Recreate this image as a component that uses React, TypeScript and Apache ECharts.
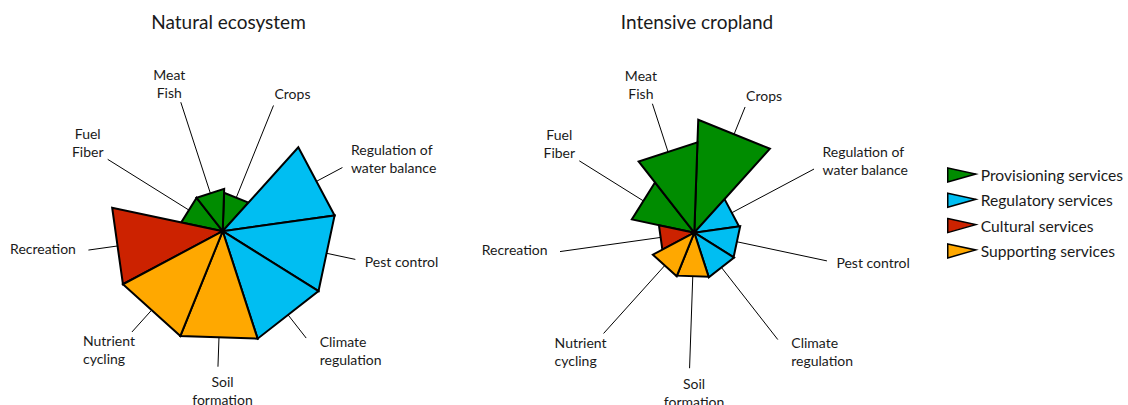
import React, { useEffect, useRef } from "react";
import * as echarts from "echarts";

// ---------- data ----------
const categories = [
  "Crops",
  "Regulation of\nwater balance",
  "Pest control",
  "Climate\nregulation",
  "Soil\nformation",
  "Nutrient\ncycling",
  "Recreation",
  "Fuel\nFiber",
  "Meat\nFish",
];
const categoryGroups = [
  "Provisioning services",
  "Regulatory services",
  "Regulatory services",
  "Regulatory services",
  "Supporting services",
  "Supporting services",
  "Cultural services",
  "Provisioning services",
  "Provisioning services",
];
const groupNames = [
  "Provisioning services",
  "Regulatory services",
  "Cultural services",
  "Supporting services",
];
const naturalValues = [0.34, 1, 1, 1, 1, 1, 1, 0.375, 0.375];
const intensiveValues = [1, 0.4, 0.41, 0.415, 0.41, 0.415, 0.32, 0.565, 0.8];
const chartTitles = ["Natural ecosystem", "Intensive cropland"];

// ---------- styling / layout ----------
const groupColors = ["#008C00", "#00BEF2", "#CC2200", "#FFA800"];
const FIRST_ANGLE = 2;
const WEDGE = 40;
const LEADER_END = 1.2;
const FONT = "Lato, 'Open Sans', sans-serif";
const TEXT_COLOR = "#1a1a1a";
const centers = [
  [222.7, 231.2],
  [694.3, 232.7],
];
const titleX = [228.5, 697];
const labelPlacement = [
  { align: "left", dx: 1, dy: -11.5 },
  { align: "left", dx: 8.5, dy: -9 },
  { align: "left", dx: 9.5, dy: 2 },
  { align: "left", dx: 13.5, dy: 12 },
  { align: "center", dx: 4.5, dy: 24 },
  { align: "left", dx: -49, dy: 18 },
  { align: "right", dx: -12.5, dy: -2 },
  { align: "center", dx: -20, dy: -17 },
  { align: "center", dx: -11.5, dy: -19 },
];

function makeRenderItem(color: string) {
  return (params: any, api: any) => {
    const start = api.value(0);
    const end = api.value(1);
    const v = api.value(2);
    const idx = api.value(3);
    const mid = (start + end) / 2;
    const half = ((end - start) / 2) * (Math.PI / 180);
    const pt = (r: number, a: number) => {
      const c = api.coord([r, a]);
      return [c[0], c[1]];
    };
    const c = pt(0, mid);
    const p1 = pt(v, start);
    const p2 = pt(v, end);
    const l1 = pt(v * Math.cos(half), mid);
    const l2 = pt(LEADER_END, mid);
    const pl = labelPlacement[idx];
    return {
      type: "group",
      children: [
        {
          type: "line",
          shape: { x1: l1[0], y1: l1[1], x2: l2[0], y2: l2[1] },
          style: { stroke: "#000", lineWidth: 1 },
        },
        {
          type: "polygon",
          shape: { points: [c, p1, p2] },
          style: { fill: color, stroke: "#000", lineWidth: 2, lineJoin: "miter" },
        },
        {
          type: "text",
          x: l2[0] + pl.dx,
          y: l2[1] + pl.dy,
          style: {
            text: categories[idx],
            font: `14px ${FONT}`,
            fill: TEXT_COLOR,
            lineHeight: 18,
            align: pl.align,
            verticalAlign: "middle",
            textAlign: pl.align,
            textVerticalAlign: "middle",
          },
        },
      ],
    };
  };
}

export default function App() {
  const ref = useRef<HTMLDivElement>(null);
  useEffect(() => {
    if (!ref.current) return;
    const chart = echarts.init(ref.current, undefined, { renderer: "svg" });
    const valueSets = [naturalValues, intensiveValues];
    const series: any[] = [];
    valueSets.forEach((vals, chartIdx) => {
      groupNames.forEach((g, gi) => {
        const data: number[][] = [];
        categories.forEach((_, i) => {
          if (categoryGroups[i] === g) {
            data.push([FIRST_ANGLE + WEDGE * i, FIRST_ANGLE + WEDGE * (i + 1), vals[i], i]);
          }
        });
        series.push({
          type: "custom",
          name: g,
          coordinateSystem: "polar",
          polarIndex: chartIdx,
          dimensions: ["start", "end", "value", "idx"],
          encode: { angle: 0, radius: 2 },
          itemStyle: { color: groupColors[gi] },
          renderItem: makeRenderItem(groupColors[gi]),
          data,
          silent: true,
        });
      });
    });
    chart.setOption({
      animation: false,
      polar: centers.map((c) => ({ center: c, radius: 113 })),
      angleAxis: centers.map((_, i) => ({
        polarIndex: i,
        type: "value",
        min: 0,
        max: 360,
        startAngle: 90,
        clockwise: true,
        show: false,
      })),
      radiusAxis: centers.map((_, i) => ({
        polarIndex: i,
        type: "value",
        min: 0,
        max: 1,
        show: false,
      })),
      legend: {
        orient: "vertical",
        left: 947,
        top: 167,
        padding: 0,
        itemWidth: 28,
        itemHeight: 14,
        itemGap: 9.3,
        selectedMode: false,
        icon: "path://M0,0L28,6L0,14Z",
        itemStyle: { borderColor: "#000", borderWidth: 1.5 },
        textStyle: { fontFamily: FONT, fontSize: 15.6, color: TEXT_COLOR, lineHeight: 16 },
        data: groupNames.map((n, i) => ({ name: n, itemStyle: { color: groupColors[i] } })),
      },
      graphic: chartTitles.map((t, i) => ({
        type: "text",
        x: titleX[i],
        y: 21.5,
        style: {
          text: t,
          font: `19px ${FONT}`,
          fill: TEXT_COLOR,
          align: "center",
          verticalAlign: "middle",
          textAlign: "center",
          textVerticalAlign: "middle",
        },
      })),
      series,
    });
    return () => chart.dispose();
  }, []);
  return (
    <div
      ref={ref}
      style={{ position: "fixed", left: 0, top: 0, width: 1128, height: 405, background: "#fff" }}
    />
  );
}
